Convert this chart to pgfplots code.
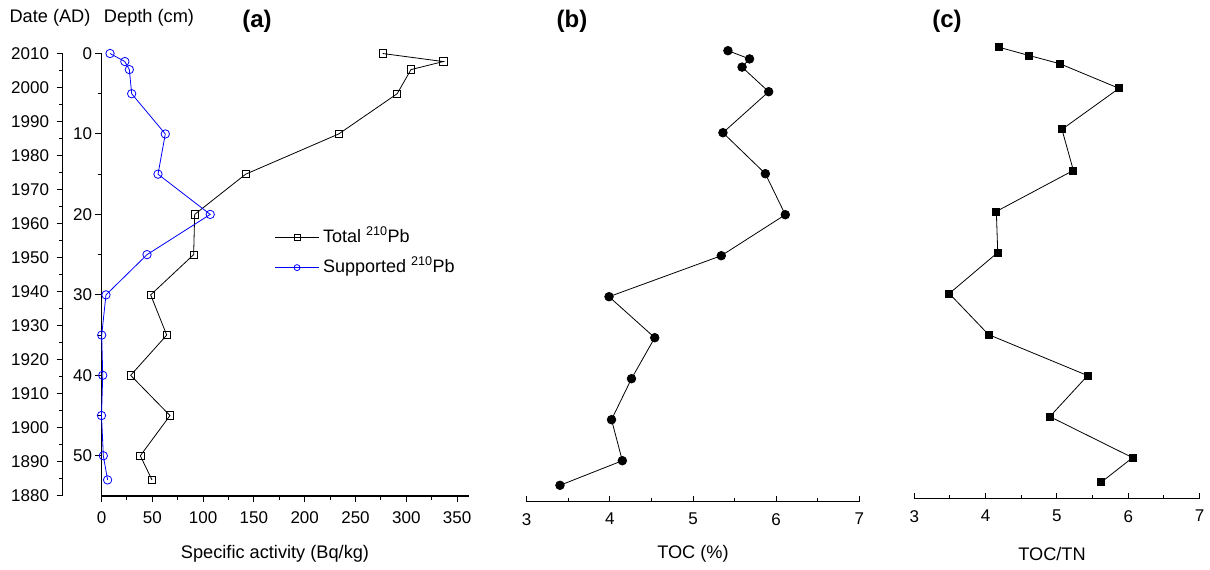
\documentclass[border=0pt]{standalone}
\usepackage{fontspec}
\setmainfont{Liberation Sans}
\usepackage{pgfplots}
\usepackage{pgfplotstable}
\pgfplotsset{compat=1.18}

\pgfplotstableread{
d  tot   sup   toc   cn
0  276.7 8.4   5.42  4.19
1  336.4 23.0  5.68  4.61
2  304.6 27.4  5.59  5.04
5  291.0 29.7  5.91  5.87
10 233.5 62.8  5.36  5.07
15 141.9 55.6  5.87  5.23
20 91.7  107.0 6.11  4.15
25 90.7  44.8  5.34  4.17
30 48.4  4.4   3.99  3.49
35 64.2  0.2   4.54  4.04
40 28.7  1.2   4.26  5.43
45 67.4  0.0   4.02  4.90
50 38.2  1.8   4.15  6.06
53 49.7  6.0   3.40  5.62
}\data

\begin{document}
\begin{tikzpicture}
\useasboundingbox (0pt,0pt) rectangle (1210pt,570pt);
\pgfplotsset{
  base/.style={
    scale only axis, clip=false,
    /pgf/number format/assume math mode=true,
    /pgf/number format/1000 sep={},
    tick label style={font=\fontsize{17}{20}\selectfont},
    every tick/.style={line width=1pt, black},
    major tick length=6pt, minor tick length=3.5pt,
  },
  noarrows/.style={
    axis line style={-, line width=1.1pt},
    x axis line style={-}, y axis line style={-},
    every outer x axis line/.append style={-},
    every outer y axis line/.append style={-},
    every inner x axis line/.append style={-},
    every inner y axis line/.append style={-},
  },
}
% Date axis
\begin{axis}[base, at={(62.5pt,74pt)}, anchor=south west, width=1pt, height=442.5pt,
  xmin=0, xmax=1, ymin=1880, ymax=2010, axis x line=none, axis y line=left, noarrows,
  ytick={1880,1890,...,2010}, minor y tick num=1, tick align=outside,
  yticklabel style={xshift=-4pt}]
\end{axis}
% Panel a
\begin{axis}[base, at={(101.5pt,74pt)}, anchor=south west, width=367.8pt, height=442.5pt,
  xmin=0, xmax=362, ymin=0, ymax=55, y dir=reverse,
  axis x line=bottom, axis y line=left, noarrows,
  xtick={0,50,...,350}, minor x tick num=1,
  ytick={0,10,...,50}, minor y tick num=1, tick align=outside,
  xticklabel style={yshift=-6pt},
  legend image code/.code={\draw[mark repeat=2,mark phase=2,#1,mark size=3pt] plot coordinates {(0pt,0pt) (21.65pt,0pt) (43.3pt,0pt)};},
  legend style={at={(axis description cs:0.463,0.550)}, anchor=west, draw=none, fill=none,
    font=\fontsize{18}{21}\selectfont, row sep=11pt, column sep=3pt,
    nodes={inner sep=1pt, text height=13pt, text depth=4pt}},
  legend cell align=left]
\addplot[black, line width=0.8pt, mark=square, mark size=3.7pt, mark options={solid, fill=white, line width=0.8pt}] table[x=tot,y=d]{\data};
\addlegendentry{Total \textsuperscript{210}Pb}
\addplot[blue, line width=0.8pt, mark=o, mark size=4.2pt, mark options={solid, fill=white, line width=0.8pt}] table[x=sup,y=d]{\data};
\addlegendentry{Supported \textsuperscript{210}Pb}
\end{axis}
% Panel b
\begin{axis}[base, at={(526.7pt,68.3pt)}, anchor=south west, width=332.6pt, height=451pt,
  xmin=3, xmax=7, ymin=0, ymax=55, y dir=reverse,
  axis x line=bottom, axis y line=none, noarrows,
  xtick={3,4,...,7}, minor x tick num=1, tick align=inside,
  xticklabel style={yshift=-8pt}]
\addplot[black, line width=0.8pt, mark=*, mark size=4.3pt] table[x=toc,y=d]{\data};
\end{axis}
% Panel c
\begin{axis}[base, at={(914.3pt,71.3pt)}, anchor=south west, width=285.3pt, height=451.4pt,
  xmin=3, xmax=7, ymin=0, ymax=55, y dir=reverse,
  axis x line=bottom, axis y line=none, noarrows,
  xtick={3,4,...,7}, minor x tick num=1, tick align=inside,
  xticklabel style={yshift=-8pt}]
\addplot[black, line width=0.8pt, mark=square*, mark size=3.5pt] table[x=cn,y=d]{\data};
\end{axis}
% texts
\node[font=\fontsize{18.2}{21}\selectfont] at (50pt,552pt) {Date (AD)};
\node[font=\fontsize{18.2}{21}\selectfont] at (149pt,552pt) {Depth (cm)};
\node[font=\fontsize{24}{28}\selectfont\bfseries] at (257pt,549pt) {(a)};
\node[font=\fontsize{24}{28}\selectfont\bfseries] at (572pt,549pt) {(b)};
\node[font=\fontsize{24}{28}\selectfont\bfseries] at (947pt,549pt) {(c)};
\node[font=\fontsize{18.2}{21}\selectfont] at (275pt,16pt) {Specific activity (Bq/kg)};
\node[font=\fontsize{18.2}{21}\selectfont] at (693pt,16pt) {TOC (\%)};
\node[font=\fontsize{18.2}{21}\selectfont] at (1052pt,16pt) {TOC/TN};
\end{tikzpicture}
\end{document}
